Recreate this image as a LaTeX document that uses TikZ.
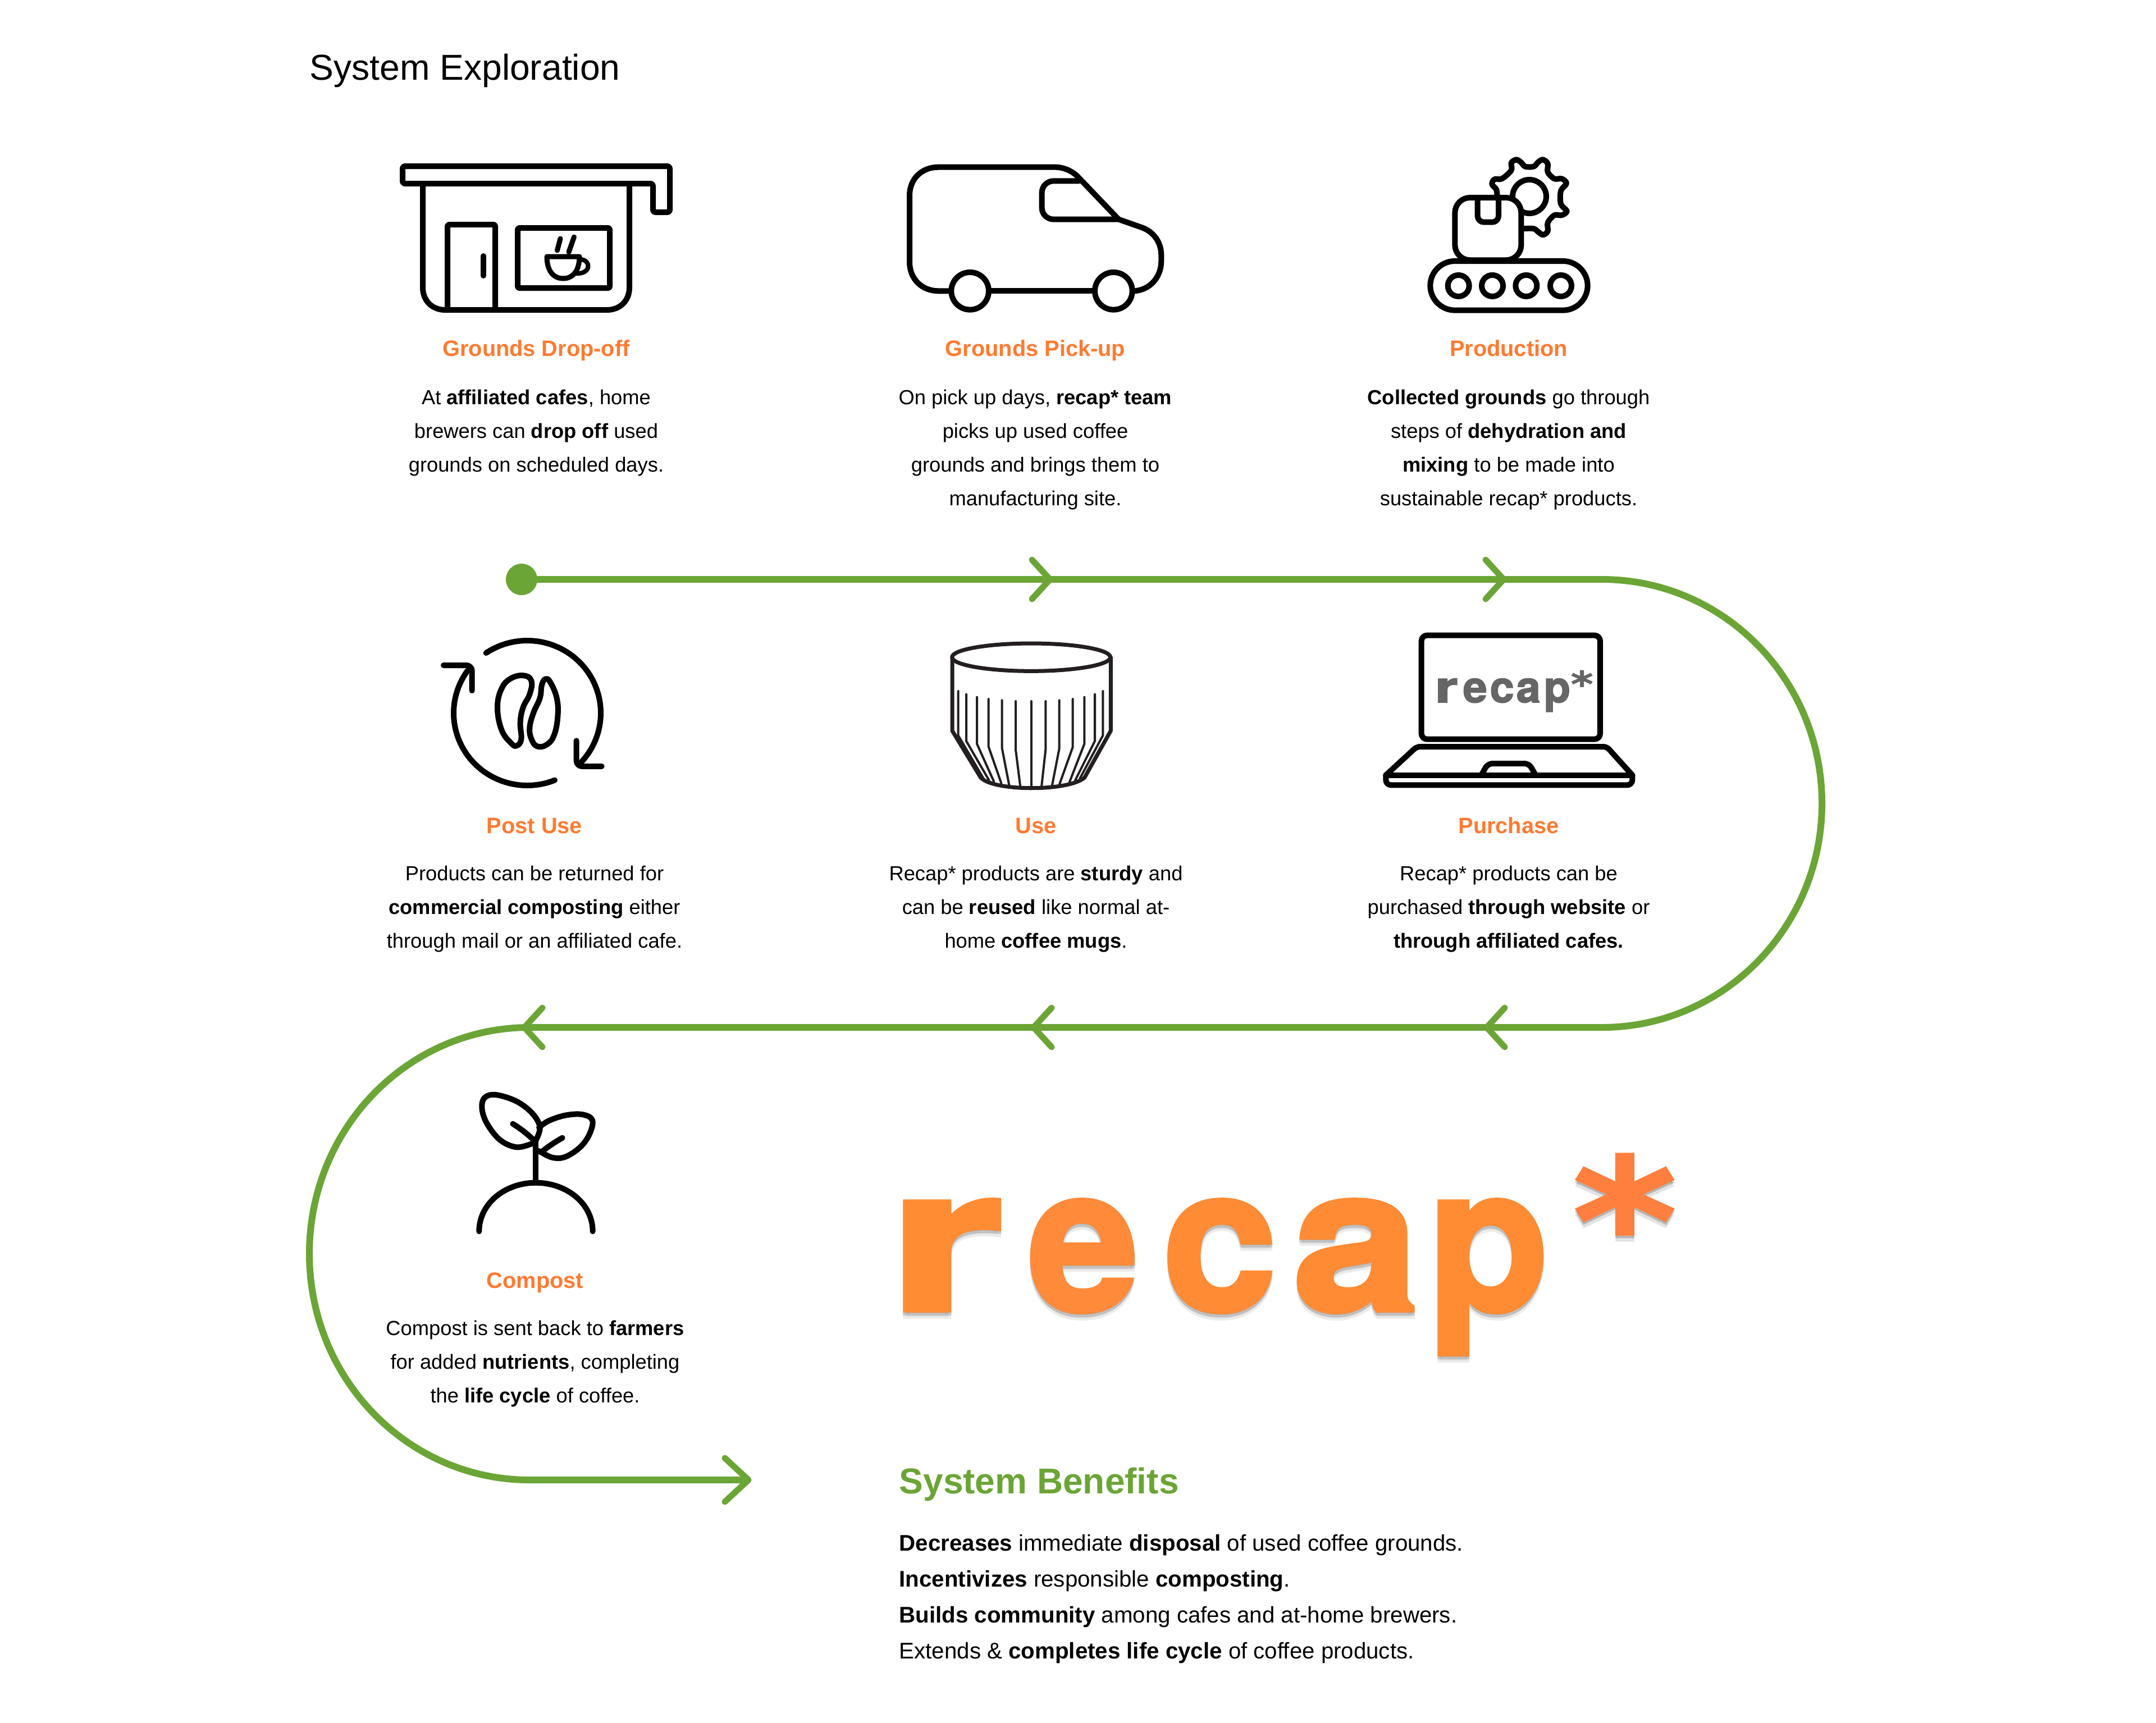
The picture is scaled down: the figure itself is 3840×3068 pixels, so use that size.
\documentclass[tikz,border=0pt]{standalone}
\usepackage{fontspec}
\setmainfont{Liberation Sans}
\newfontfamily\logofont[FakeBold=2.2]{TeX Gyre Heros Bold}
\newfontfamily\starfont[FakeBold=1.2]{DejaVu Sans Bold}
\definecolor{flowgreen}{HTML}{6BA536}
\definecolor{titleorange}{HTML}{FF7A30}
\definecolor{lgA}{HTML}{FF8C33}
\definecolor{lgB}{HTML}{FF8A3A}
\definecolor{lgC}{HTML}{FF8B35}
\definecolor{lgD}{HTML}{FF7F3E}
\definecolor{iconink}{HTML}{231F20}
\tikzset{
 flow/.style={draw=flowgreen,line width=0.12cm},
 chev/.style={draw=flowgreen,line width=0.11cm,line cap=round,line join=round},
 ico/.style={draw=black,line width=0.10cm,line join=round,line cap=round},
 cupline/.style={draw=iconink,line width=0.07cm,line join=round,line cap=round},
 rib/.style={draw=iconink,line width=0.04cm,line join=round,line cap=round},
 title/.style={anchor=base,inner sep=0pt,text=titleorange,font=\fontsize{11.3pt}{14pt}\selectfont\bfseries},
 bodyline/.style={anchor=base,inner sep=0pt,text=black,font=\fontsize{10.33pt}{12pt}\selectfont},
 benefit/.style={anchor=base west,inner sep=0pt,text=black,font=\fontsize{11.45pt}{13pt}\selectfont},
 heading/.style={anchor=base west,inner sep=0pt,font=\fontsize{18.25pt}{22pt}\selectfont},
 biglogo/.style={anchor=base west,inner sep=0pt,font=\logofont\fontsize{102pt}{110pt}\selectfont},
 bigstar/.style={anchor=base west,inner sep=0pt,font=\starfont\fontsize{88pt}{90pt}\selectfont},
 smalllogo/.style={anchor=base west,inner sep=0pt,text=black!60,font=\logofont\fontsize{22pt}{24pt}\selectfont},
 smallstar/.style={anchor=base west,inner sep=0pt,text=black!60,font=\starfont\fontsize{18pt}{20pt}\selectfont},
}
\newcommand{\Lg}[7]{% style, name, x, baseline, xscale, colour, letter
 \node[#1,text=black!40,opacity=.18] (#2s2) at (#3,#4+11) {\scalebox{#5}[1]{#7}};
 \node[#1,text=black!50,opacity=.35] (#2s1) at (#3,#4+5) {\scalebox{#5}[1]{#7}};
 \node[#1,text=#6] (#2) at (#3,#4) {\scalebox{#5}[1]{#7}};
}
\begin{document}
\begin{tikzpicture}[x=0.01cm,y=-0.01cm]
\useasboundingbox (0,0) rectangle (3840,3068);
\fill[white] (0,0) rectangle (3840,3068);

% flow line
\node[circle,fill=flowgreen,inner sep=0pt,minimum size=0.56cm] (start) at (929,1032) {};
\coordinate (rtop) at (2853,1032);
\coordinate (rmid) at (3245,1431);
\coordinate (rbot) at (2853,1830);
\coordinate (ltop) at (943,1830);
\coordinate (lmid) at (551,2233);
\coordinate (lbot) at (943,2636);
\coordinate (arrowend) at (1333,2636);
\draw[flow] (start.center) -- (rtop) .. controls (3069.5,1032) and (3245,1210.4) .. (rmid)
  .. controls (3245,1651) and (3069.5,1830) .. (rbot) -- (ltop)
  .. controls (726.5,1830) and (551,2010) .. (lmid)
  .. controls (551,2456) and (726.5,2636) .. (lbot) -- (arrowend);
\draw[chev] (1838,997) -- (1870,1032) -- (1838,1067);
\draw[chev] (2646,997) -- (2678,1032) -- (2646,1067);
\draw[chev] (1873,1795) -- (1841,1830) -- (1873,1865);
\draw[chev] (2680,1795) -- (2648,1830) -- (2680,1865);
\draw[chev] (966,1795) -- (934,1830) -- (966,1865);
\draw[chev] (1291,2597) -- (arrowend) -- (1291,2675);

% store
\draw[ico,rounded corners=0.04cm] (717,296) -- (1193,296) -- (1193,378) -- (1163,378) -- (1163,327) -- (717,327) -- cycle;
\draw[ico] (753,330) -- (753,512) .. controls (753,536) and (770,552) .. (793,552) -- (1081,552) .. controls (1104,552) and (1121,536) .. (1121,512) -- (1121,330);
\draw[ico,rounded corners=0.03cm] (797,552) -- (797,400) -- (882,400) -- (882,552);
\draw[ico] (861,456) -- (861,491);
\draw[ico,rounded corners=0.03cm] (922,406) rectangle (1086,513);
\draw[ico,line width=0.09cm] (998,425) -- (992.5,446);
\draw[ico,line width=0.09cm] (1022.5,422) -- (1013,449);
\draw[ico,line width=0.09cm] (974,457) -- (1032,457) .. controls (1032,480) and (1022,496) .. (1003,496) .. controls (984,496) and (974,480) .. (974,457) -- cycle;
\draw[ico,line width=0.08cm] (1033,462) .. controls (1044,462) and (1049,470) .. (1047,477) .. controls (1045,484) and (1036,488) .. (1024,487);

% van
\begin{scope}[shift={(1590,260)},scale=0.3333]
\draw[ico] (300,775) -- (245,775) .. controls (155,775) and (90,710) .. (90,620) -- (90,265) .. controls (90,175) and (155,113) .. (245,113) -- (865,113) .. controls (915,113) and (955,133) .. (985,160) -- (1207,392) -- (1335,437) .. controls (1395,460) and (1435,515) .. (1435,585) -- (1435,615) .. controls (1435,700) and (1375,770) .. (1290,775);
\draw[ico] (525,775) -- (1068,775);
\draw[ico] (413,775) circle[radius=100];
\draw[ico] (1180,775) circle[radius=100];
\draw[ico] (1207,392) -- (860,392) .. controls (825,392) and (797,365) .. (797,330) -- (797,250) .. controls (797,215) and (825,187) .. (860,187) -- (995,187);
\end{scope}

% production
\begin{scope}[shift={(2500,250)},scale=0.3333]
\draw[ico] plot[smooth,tension=.55] coordinates {(500,300) (495,262) (472,235) (485,208) (525,205) (575,160) (575,120) (603,103) (630,120) (650,140) (695,140) (720,115) (745,103) (770,125) (770,170) (805,205) (845,205) (870,230) (840,270) (840,340) (872,378) (845,400) (805,400) (770,440) (770,485) (745,505) (720,490) (695,472) (640,472)};
\draw[ico] (672,300) circle[radius=90];
\draw[ico,fill=white,rounded corners=0.27cm] (274,306) rectangle (628,640);
\draw[ico,rounded corners=0.11cm] (395,306) -- (395,437) -- (507,437) -- (507,306);
\draw[ico,fill=white,rounded corners=0.44cm] (142,645) rectangle (983,908);
\foreach \cx in {293,474,655,840}
  \draw[ico] (\cx,777) circle[radius=57];
\end{scope}

% post use
\draw[ico] plot[domain=236:404,samples=70] ({939+131*cos(\x)},{1270+129*sin(\x)});
\draw[ico] plot[domain=68:216,samples=70] ({939+131*cos(\x)},{1270+129*sin(\x)});
\begin{scope}[shift={(760,1110)},scale=0.3333]
\draw[ico,rounded corners=0.1cm] (90,225) -- (242,225) -- (242,360);
\draw[ico,rounded corners=0.1cm] (800,628) -- (800,765) -- (935,765);
\draw[ico] plot[smooth cycle,tension=.7] coordinates {(520,280) (560,310) (550,380) (515,450) (500,530) (505,620) (480,655) (450,640) (400,570) (378,450) (400,350) (450,295)};
\draw[ico] plot[smooth cycle,tension=.7] coordinates {(635,298) (660,315) (695,400) (700,500) (680,600) (640,650) (590,658) (560,620) (550,560) (570,480) (605,400) (615,330)};
\end{scope}

% cup
\begin{scope}[shift={(1660,1120)},scale=0.3333]
\draw[cupline] (530,152) ellipse[x radius=423,y radius=74];
\draw[cupline] (108,152) -- (108,545) -- (260,795) .. controls (330,870) and (730,870) .. (815,795) -- (955,545) -- (955,152);
\foreach \xa/\ya/\yb/\xc/\yc in {140/333/570/275/800,183/350/600/305/810,240/365/615/330/815,302/375/630/370/825,374/382/638/412/835,447/387/645/472/845,607/387/645/585/845,680/382/640/642/835,752/375/632/682/828,814/365/615/735/818,870/350/600/765/810,913/333/570/790/800}
  \draw[rib] (\xa,\ya) -- (\xa,\yb) -- (\xc,\yc);
\draw[rib] (530,387) -- (530,848);
\end{scope}

% laptop
\begin{scope}[shift={(2440,1110)},scale=0.3333]
\draw[ico,rounded corners=0.1cm] (275,65) rectangle (1230,620);
\draw[ico,rounded corners=0.06cm] (85,812) -- (250,660) -- (1265,660) -- (1402,812);
\draw[ico] (85,812) -- (1402,812);
\draw[ico,rounded corners=0.09cm] (85,812) -- (85,865) -- (1402,865) -- (1402,812);
\draw[ico,rounded corners=0.08cm] (595,812) -- (630,750) -- (850,750) -- (885,812);
\end{scope}
\node[smalllogo] (sr) at (2555,1251) {\scalebox{1.35}[1]{r}};
\node[smalllogo] (se) at (2605,1251) {e};
\node[smalllogo] (sc) at (2653,1251) {c};
\node[smalllogo] (sa) at (2700,1251) {a};
\node[smalllogo] (sp) at (2749,1251) {p};
\node[smallstar] (sa2) at (2797,1241) {\scalebox{1.2}[1]{*}};

% compost
\begin{scope}[shift={(820,1930)},scale=0.3333]
\draw[ico] (100,790) .. controls (100,640) and (240,530) .. (403,530) .. controls (566,530) and (707,640) .. (707,790);
\draw[ico] (403,530) -- (403,310);
\draw[ico] plot[smooth,tension=.6] coordinates {(400,310) (425,235) (385,160) (300,95) (190,60) (130,75) (115,130) (140,210) (210,300) (300,340) (385,320)};
\draw[ico] plot[smooth,tension=.6] coordinates {(420,235) (470,200) (560,170) (650,165) (705,195) (690,270) (640,340) (560,392) (490,395) (420,360)};
\draw[ico] (280,215) .. controls (320,240) and (360,270) .. (400,310);
\draw[ico] (545,290) .. controls (510,310) and (470,335) .. (435,365);
\end{scope}

% heading
\node[heading,text=black] (h1) at (551,142) {System Exploration};
\node[heading,text=flowgreen,font=\fontsize{18.2pt}{22pt}\selectfont\bfseries] (h2) at (1601,2660) {System Benefits};

% row 1
\node[title] (t1) at (955,634) {Grounds Drop-off};
\node[bodyline] (a1) at (955,720) {At \textbf{affiliated cafes}, home};
\node[bodyline] (a2) at (955,780) {brewers can \textbf{drop off} used};
\node[bodyline] (a3) at (955,840) {grounds on scheduled days.};
\node[title] (t2) at (1844,634) {Grounds Pick-up};
\node[bodyline] (b1) at (1844,720) {On pick up days, \textbf{recap* team}};
\node[bodyline] (b2) at (1844,780) {picks up used coffee};
\node[bodyline] (b3) at (1844,840) {grounds and brings them to};
\node[bodyline] (b4) at (1844,900) {manufacturing site.};
\node[title] (t3) at (2687,634) {Production};
\node[bodyline] (c1) at (2687,720) {\textbf{Collected grounds} go through};
\node[bodyline] (c2) at (2687,780) {steps of \textbf{dehydration and}};
\node[bodyline] (c3) at (2687,840) {\textbf{mixing} to be made into};
\node[bodyline] (c4) at (2687,900) {sustainable recap* products.};

% row 2
\node[title] (t4) at (952,1484) {Post Use};
\node[bodyline] (d1) at (952,1568) {Products can be returned for};
\node[bodyline] (d2) at (952,1628) {\textbf{commercial composting} either};
\node[bodyline] (d3) at (952,1688) {through mail or an affiliated cafe.};
\node[title] (t5) at (1845,1484) {Use};
\node[bodyline] (e1) at (1845,1568) {Recap* products are \textbf{sturdy} and};
\node[bodyline] (e2) at (1845,1628) {can be \textbf{reused} like normal at-};
\node[bodyline] (e3) at (1845,1688) {home \textbf{coffee mugs}.};
\node[title] (t6) at (2687,1484) {Purchase};
\node[bodyline] (f1) at (2687,1568) {Recap* products can be};
\node[bodyline] (f2) at (2687,1628) {purchased \textbf{through website} or};
\node[bodyline] (f3) at (2687,1688) {\textbf{through affiliated cafes.}};

% row 3
\node[title] (t7) at (953,2294) {Compost};
\node[bodyline] (g1) at (953,2378) {Compost is sent back to \textbf{farmers}};
\node[bodyline] (g2) at (953,2438) {for added \textbf{nutrients}, completing};
\node[bodyline] (g3) at (953,2498) {the \textbf{life cycle} of coffee.};

% benefits
\node[benefit] (k1) at (1601,2762) {\textbf{Decreases} immediate \textbf{disposal} of used coffee grounds.};
\node[benefit] (k2) at (1601,2826) {\textbf{Incentivizes} responsible \textbf{composting}.};
\node[benefit] (k3) at (1601,2890) {\textbf{Builds community} among cafes and at-home brewers.};
\node[benefit] (k4) at (1601,2954) {Extends \& \textbf{completes life cycle} of coffee products.};

% logo
\Lg{biglogo}{lr}{1580}{2334}{1.48}{lgA}{r}
\Lg{biglogo}{le}{1830}{2334}{.99}{lgB}{e}
\Lg{biglogo}{lc}{2070}{2334}{1.02}{lgC}{c}
\Lg{biglogo}{la}{2302}{2334}{1.13}{lgC}{a}
\Lg{biglogo}{lp}{2543}{2334}{.98}{lgA}{p}
\Lg{bigstar}{ls}{2800}{2285}{1.15}{lgD}{*}
\end{tikzpicture}
\end{document}
